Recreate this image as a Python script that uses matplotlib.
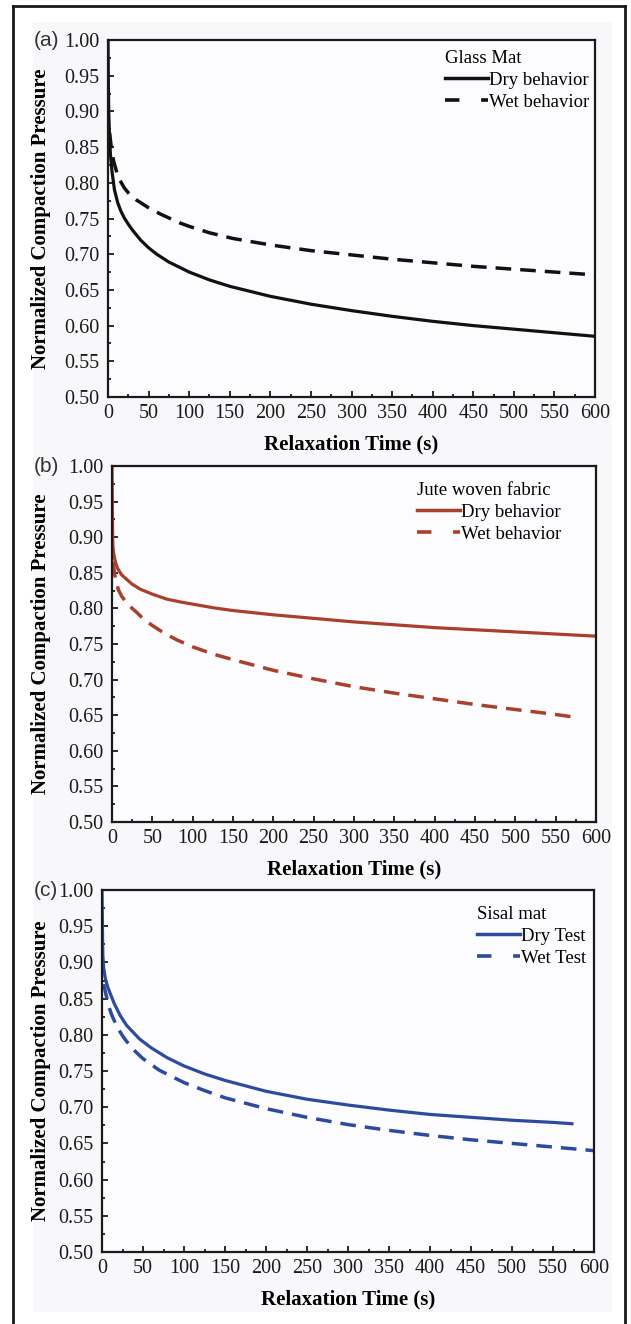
import matplotlib
matplotlib.use('Agg')
import matplotlib.pyplot as plt
from matplotlib.lines import Line2D
from matplotlib.patches import Rectangle
from matplotlib.ticker import MultipleLocator, FormatStrFormatter

plt.rcParams['font.family'] = ['Liberation Serif', 'DejaVu Serif']

# ---------------- data ----------------
glass_dry_t = [0, 0.5, 1, 2, 3, 5, 8, 12, 16, 20, 25, 30, 40, 50, 60, 75, 100, 125, 150,
               200, 250, 300, 350, 400, 450, 500, 550, 600]
glass_dry_p = [1.00, 0.93, 0.895, 0.86, 0.84, 0.815, 0.79, 0.772, 0.76, 0.751, 0.742, 0.734,
               0.72, 0.709, 0.70, 0.689, 0.675, 0.664, 0.655, 0.641, 0.630, 0.621, 0.613,
               0.606, 0.600, 0.595, 0.590, 0.585]
glass_wet_t = [2, 4, 7, 11, 15, 20, 25, 35, 50, 65, 88, 100, 125, 154, 200, 250, 300, 350,
               400, 450, 500, 550, 600]
glass_wet_p = [0.87, 0.85, 0.83, 0.814, 0.803, 0.793, 0.786, 0.776, 0.765, 0.756, 0.744, 0.739,
               0.73, 0.722, 0.713, 0.705, 0.699, 0.693, 0.688, 0.683, 0.679, 0.675, 0.671]

jute_dry_t = [0, 0.5, 1, 2, 4, 7, 12, 19, 25, 35, 50, 68, 85, 100, 125, 150, 200, 250, 300,
              350, 400, 450, 500, 550, 600]
jute_dry_p = [1.0, 0.93, 0.89, 0.878, 0.866, 0.856, 0.847, 0.84, 0.834, 0.827, 0.82, 0.813,
              0.809, 0.806, 0.801, 0.797, 0.791, 0.786, 0.781, 0.777, 0.773, 0.770, 0.767,
              0.764, 0.761]
jute_wet_t = [1.5, 3, 5, 8, 12, 18, 25, 31, 40, 50, 65, 80, 100, 125, 150, 200, 250, 300,
              350, 400, 450, 500, 550, 575]
jute_wet_p = [0.865, 0.85, 0.838, 0.826, 0.817, 0.808, 0.800, 0.794, 0.784, 0.776, 0.765,
              0.756, 0.746, 0.736, 0.728, 0.713, 0.701, 0.690, 0.681, 0.673, 0.665, 0.658,
              0.651, 0.647]

sisal_dry_t = [0, 0.5, 1, 2, 4, 7, 10, 15, 22, 30, 46, 60, 80, 100, 125, 150, 200, 250, 300,
               350, 400, 450, 500, 550, 575]
sisal_dry_p = [1.0, 0.95, 0.91, 0.893, 0.878, 0.866, 0.857, 0.843, 0.827, 0.813, 0.794, 0.782,
               0.768, 0.757, 0.746, 0.737, 0.722, 0.711, 0.703, 0.696, 0.690, 0.686, 0.682,
               0.679, 0.677]
sisal_wet_t = [2, 5, 8, 12, 16, 21, 26, 36, 50, 70, 100, 125, 150, 200, 250, 300, 350, 400,
               450, 500, 550, 600]
sisal_wet_p = [0.87, 0.855, 0.84, 0.827, 0.817, 0.806, 0.797, 0.782, 0.767, 0.751, 0.734,
               0.723, 0.713, 0.698, 0.686, 0.676, 0.668, 0.661, 0.655, 0.650, 0.645, 0.640]

panel_tags = ['(a)', '(b)', '(c)']
legend_titles = ['Glass Mat', 'Jute woven fabric', 'Sisal mat']
legend_labels = [['Dry behavior', 'Wet behavior'],
                 ['Dry behavior', 'Wet behavior'],
                 ['Dry Test', 'Wet Test']]
colors = ['#111111', '#a8402b', '#2c4a9e']
x_label = 'Relaxation Time (s)'
y_label = 'Normalized Compaction Pressure'

series = [(glass_dry_t, glass_dry_p, glass_wet_t, glass_wet_p),
          (jute_dry_t, jute_dry_p, jute_wet_t, jute_wet_p),
          (sisal_dry_t, sisal_dry_p, sisal_wet_t, sisal_wet_p)]

# ---------------- layout (pixels) ----------------
W, H = 631, 1324
fig = plt.figure(figsize=(W / 100, H / 100), dpi=100, facecolor='white')

# faint scan background
fig.patches.append(Rectangle((33 / W, 1 - 1312 / H), (612 - 33) / W, (1312 - 22) / H,
                             transform=fig.transFigure, facecolor='#f8f8fb',
                             edgecolor='none', zorder=-10))
# outer frame
for xs, ys in [([13, 13], [6, 1330]), ([13, 625], [6, 6]), ([625, 625], [6, 1330])]:
    fig.add_artist(Line2D([x / W for x in xs], [1 - y / H for y in ys],
                          transform=fig.transFigure, color='#1a1a1a', lw=2.0))

boxes = [(108, 40, 595, 397), (112, 466, 596, 822), (102, 890, 594, 1252)]
legend_pos = [(445, 50), (417, 482), (477, 906)]

for i, (box, (dt, dp, wt, wp)) in enumerate(zip(boxes, series)):
    l, t, r, b = box
    ax = fig.add_axes([l / W, 1 - b / H, (r - l) / W, (b - t) / H])
    ax.set_facecolor('#fcfcfe')
    c = colors[i]
    ax.plot(dt, dp, color=c, lw=2.3, solid_capstyle='butt')
    ax.plot(wt, wp, color=c, lw=2.5, dashes=(4.5, 2.6), dash_capstyle='butt')
    ax.set_xlim(0, 600)
    ax.set_ylim(0.5, 1.0)
    ax.xaxis.set_major_locator(MultipleLocator(50))
    ax.xaxis.set_minor_locator(MultipleLocator(25))
    ax.yaxis.set_major_locator(MultipleLocator(0.05))
    ax.yaxis.set_minor_locator(MultipleLocator(0.025))
    ax.yaxis.set_major_formatter(FormatStrFormatter('%.2f'))
    ax.tick_params(which='both', direction='in', top=False, right=False, width=1.3,
                   colors='#1a1a1a', labelsize=14.5)
    ax.tick_params(which='major', length=4.5)
    ax.tick_params(which='minor', length=2.5)
    ax.tick_params(axis='x', pad=5)
    ax.tick_params(axis='y', pad=6)
    for s in ax.spines.values():
        s.set_linewidth(1.6)
        s.set_color('#1a1a1a')
    ax.set_xlabel(x_label, fontsize=15, fontweight='bold', labelpad=8)
    ax.set_ylabel(y_label, fontsize=15, fontweight='bold')
    ax.yaxis.set_label_coords((51 - l) / (r - l), 0.5)

    handles = [Line2D([], [], color=c, lw=2.5),
               Line2D([], [], color=c, lw=2.6, dashes=(4.0, 6.0), dash_capstyle='butt')]
    lx, ly = legend_pos[i]
    ax.legend(handles, legend_labels[i], title=legend_titles[i], loc='upper left',
              bbox_to_anchor=((lx - l) / (r - l), 1 - (ly - t) / (b - t)),
              frameon=False, borderpad=0, borderaxespad=0, handlelength=2.3,
              handletextpad=0.05, labelspacing=0.25, fontsize=13.5, title_fontsize=13.5,
              alignment='left')

    fig.text(34 / W, 1 - t / H, panel_tags[i], fontsize=15, family=['Liberation Sans'],
             ha='left', va='center', color='#333333')

fig.savefig('out.png', dpi=100, facecolor=fig.get_facecolor())
